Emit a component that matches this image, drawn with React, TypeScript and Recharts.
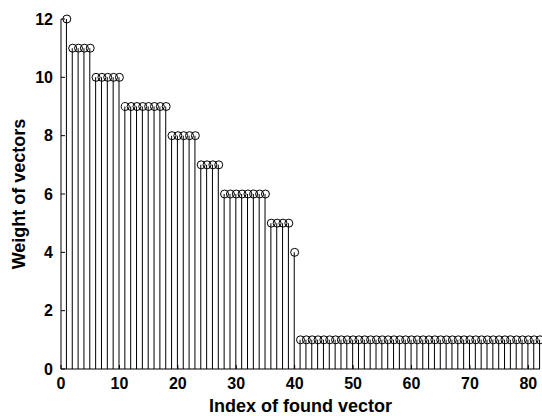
import React from "react";
import {
  ComposedChart,
  Bar,
  Scatter,
  XAxis,
  YAxis,
  Label,
} from "recharts";

// weight of each found vector, index 1..82
const weights = [
  12,
  11, 11, 11, 11,
  10, 10, 10, 10, 10,
  9, 9, 9, 9, 9, 9, 9, 9,
  8, 8, 8, 8, 8,
  7, 7, 7, 7,
  6, 6, 6, 6, 6, 6, 6, 6,
  5, 5, 5, 5,
  4,
  1, 1, 1, 1, 1, 1, 1, 1, 1, 1,
  1, 1, 1, 1, 1, 1, 1, 1, 1, 1,
  1, 1, 1, 1, 1, 1, 1, 1, 1, 1,
  1, 1, 1, 1, 1, 1, 1, 1, 1, 1,
  1, 1,
];

const xTicks = [0, 10, 20, 30, 40, 50, 60, 70, 80];
const yTicks = [0, 2, 4, 6, 8, 10, 12];

const data = weights.map((w, i) => ({ idx: i + 1, weight: w }));

const font = "'Liberation Sans', Arial, sans-serif";
const tickStyle = { fontFamily: font, fontWeight: 700, fontSize: 16, fill: "#000" };
const labelStyle = { fontFamily: font, fontWeight: 700, fontSize: 18, fill: "#000" };

const Circle = (props: any) => {
  const { cx, cy } = props;
  return <circle cx={cx} cy={cy} r={4} fill="none" stroke="#000" strokeWidth={1} />;
};

export default function App() {
  return (
    <div style={{ position: "absolute", left: 0, top: 0, background: "#fff" }}>
      <ComposedChart
        width={542}
        height={416}
        data={data}
        margin={{ top: 19, right: 2, left: 0, bottom: 0 }}
      >
        <XAxis
          xAxisId="bottom"
          dataKey="idx"
          type="number"
          domain={[0, 82]}
          ticks={xTicks}
          height={47}
          tickSize={-4}
          tickMargin={13}
          tick={tickStyle}
          stroke="#000"
          axisLine={{ stroke: "#000" }}
          tickLine={{ stroke: "#000" }}
        >
          <Label value="Index of found vector" position="insideBottom" offset={4} style={labelStyle} />
        </XAxis>
        <XAxis
          xAxisId="top"
          orientation="top"
          dataKey="idx"
          type="number"
          domain={[0, 82]}
          ticks={xTicks}
          height={0}
          tickSize={-4}
          tick={false}
          axisLine={{ stroke: "#000" }}
          tickLine={{ stroke: "#000" }}
        />
        <YAxis
          yAxisId="left"
          type="number"
          domain={[0, 12]}
          ticks={yTicks}
          width={61}
          tickSize={-4}
          tickMargin={12}
          tick={tickStyle}
          axisLine={{ stroke: "#000" }}
          tickLine={{ stroke: "#000" }}
        >
          <Label value="Weight of vectors" position="center" angle={-90} dx={-12} style={labelStyle} />
        </YAxis>
        <YAxis
          yAxisId="right"
          orientation="right"
          type="number"
          domain={[0, 12]}
          ticks={yTicks}
          width={0}
          tickSize={-4}
          tick={false}
          axisLine={{ stroke: "#000" }}
          tickLine={{ stroke: "#000" }}
        />
        <Bar
          xAxisId="bottom"
          yAxisId="left"
          dataKey="weight"
          barSize={1}
          fill="#000"
          isAnimationActive={false}
        />
        <Scatter
          xAxisId="bottom"
          yAxisId="left"
          dataKey="weight"
          shape={Circle}
          isAnimationActive={false}
        />
      </ComposedChart>
    </div>
  );
}
